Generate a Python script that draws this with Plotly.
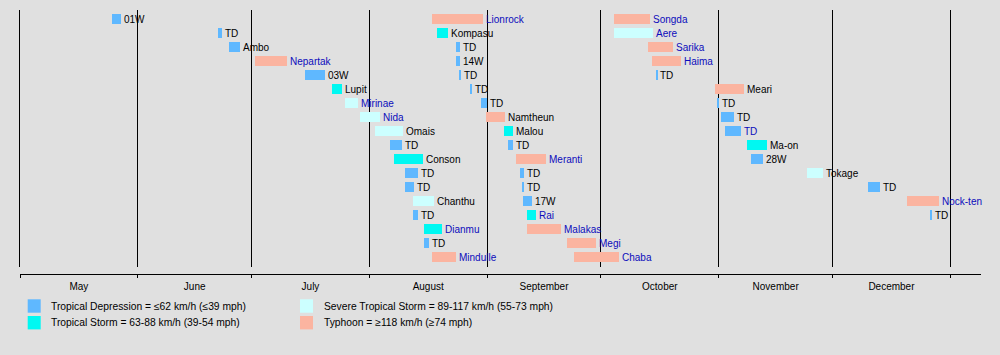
import plotly.graph_objects as go
import pandas as pd

# ---------------- data ----------------
names = [
    "01W", "TD", "Ambo", "Nepartak", "03W", "Lupit", "Mirinae", "Nida", "Omais",
    "TD", "Conson", "TD", "TD", "Chanthu", "TD", "Dianmu", "TD", "Mindulle",
    "Lionrock", "Kompasu", "TD", "14W", "TD", "TD", "TD", "Namtheun", "Malou",
    "TD", "Meranti", "TD", "TD", "17W", "Rai", "Malakas", "Megi", "Chaba",
    "Songda", "Aere", "Sarika", "Haima", "TD", "Meari", "TD", "TD", "TD",
    "Ma-on", "28W", "Tokage", "TD", "Nock-ten", "TD",
]
starts = [
    "2016-05-25 05:00", "2016-06-22 05:00", "2016-06-24 22:00", "2016-07-02 00:00",
    "2016-07-15 02:00", "2016-07-22 05:00", "2016-07-25 12:00", "2016-07-29 12:00",
    "2016-08-02 12:00", "2016-08-06 12:00", "2016-08-07 12:00", "2016-08-10 12:00",
    "2016-08-10 12:00", "2016-08-12 14:00", "2016-08-12 14:00", "2016-08-15 12:00",
    "2016-08-15 12:00", "2016-08-17 14:00",
    "2016-08-17 14:00", "2016-08-18 17:00", "2016-08-23 17:00", "2016-08-23 17:00",
    "2016-08-24 19:00", "2016-08-27 14:00", "2016-08-30 07:00", "2016-08-31 17:00",
    "2016-09-05 12:00", "2016-09-06 14:00", "2016-09-08 17:00", "2016-09-09 17:00",
    "2016-09-10 10:00", "2016-09-10 12:00", "2016-09-11 12:00", "2016-09-11 12:00",
    "2016-09-22 02:00", "2016-09-23 22:00",
    "2016-10-04 10:00", "2016-10-04 10:00", "2016-10-13 10:00", "2016-10-14 12:00",
    "2016-10-15 12:00", "2016-10-30 22:00", "2016-10-31 17:00", "2016-11-01 17:00",
    "2016-11-02 14:00", "2016-11-08 14:00", "2016-11-09 14:00", "2016-11-24 07:00",
    "2016-12-10 07:00", "2016-12-20 12:00", "2016-12-26 19:00",
]
ends = [
    "2016-05-27 14:00", "2016-06-23 05:00", "2016-06-28 00:00", "2016-07-10 05:00",
    "2016-07-20 05:00", "2016-07-24 17:00", "2016-07-28 22:00", "2016-08-03 22:00",
    "2016-08-09 22:00", "2016-08-09 14:00", "2016-08-15 00:00", "2016-08-13 19:00",
    "2016-08-12 19:00", "2016-08-18 00:00", "2016-08-13 19:00", "2016-08-20 02:00",
    "2016-08-16 19:00", "2016-08-23 22:00",
    "2016-08-30 22:00", "2016-08-21 19:00", "2016-08-25 00:00", "2016-08-25 00:00",
    "2016-08-25 05:00", "2016-08-27 22:00", "2016-09-01 02:00", "2016-09-05 17:00",
    "2016-09-07 19:00", "2016-09-07 22:00", "2016-09-16 14:00", "2016-09-10 17:00",
    "2016-09-10 17:00", "2016-09-12 17:00", "2016-09-13 22:00", "2016-09-20 12:00",
    "2016-09-29 14:00", "2016-10-05 17:00",
    "2016-10-13 19:00", "2016-10-14 14:00", "2016-10-20 00:00", "2016-10-22 02:00",
    "2016-10-15 19:00", "2016-11-07 19:00", "2016-11-01 02:00", "2016-11-04 22:00",
    "2016-11-07 00:00", "2016-11-13 19:00", "2016-11-12 17:00", "2016-11-28 10:00",
    "2016-12-13 12:00", "2016-12-29 02:00", "2016-12-27 05:00",
]
cats = [
    "TD", "TD", "TD", "TY", "TD", "TS", "STS", "STS", "STS",
    "TD", "TS", "TD", "TD", "STS", "TD", "TS", "TD", "TY",
    "TY", "TS", "TD", "TD", "TD", "TD", "TD", "TY", "TS",
    "TD", "TY", "TD", "TD", "TD", "TS", "TY", "TY", "TY",
    "TY", "STS", "TY", "TY", "TD", "TY", "TD", "TD", "TD",
    "TS", "TD", "STS", "TD", "TY", "TD",
]
linked = [
    0, 0, 0, 1, 0, 0, 1, 1, 0,
    0, 0, 0, 0, 0, 0, 1, 0, 1,
    1, 0, 0, 0, 0, 0, 0, 0, 0,
    0, 1, 0, 0, 0, 1, 1, 1, 1,
    1, 1, 1, 1, 0, 0, 0, 0, 1,
    0, 0, 0, 0, 1, 0,
]
legend_cats = ["TD", "TS", "STS", "TY"]
legend_texts = [
    "Tropical Depression = ≤62 km/h (≤39 mph)",
    "Tropical Storm = 63-88 km/h (39-54 mph)",
    "Severe Tropical Storm = 89-117 km/h (55-73 mph)",
    "Typhoon = ≥118 km/h (≥74 mph)",
]
x_range = ["2016-05-01", "2017-01-09 02:00"]

# ---------------- styling ----------------
ROWS_PER_COL = 18
COLORS = {"TD": "#5fb8ff", "TS": "#00f8f2", "STS": "#ccffff", "TY": "#fbb4a0"}
LINK = "#0c0cbc"
FONT = "Liberation Sans, Arial, sans-serif"
BG = "#e0e0e0"
W, H = 1000, 355
ML, MR, MT, MB = 20, 19, 10, 81
PW, PH = W - ML - MR, H - MT - MB


def px(x):
    return (x - ML) / PW


def py(y):
    return (H - MB - y) / PH


s = pd.to_datetime(pd.Series(starts))
e = pd.to_datetime(pd.Series(ends))
dur_ms = ((e - s).dt.total_seconds() * 1000).tolist()
rows = [i % ROWS_PER_COL for i in range(len(names))]

fig = go.Figure()
for cat in legend_cats:
    idx = [i for i, c in enumerate(cats) if c == cat]
    fig.add_trace(go.Bar(
        orientation="h",
        base=[starts[i] for i in idx],
        x=[dur_ms[i] for i in idx],
        y=[rows[i] for i in idx],
        width=0.72,
        marker=dict(color=COLORS[cat], line=dict(width=0)),
        showlegend=False,
        hovertext=[names[i] for i in idx],
        hoverinfo="text",
    ))

annotations = []
for i, n in enumerate(names):
    annotations.append(dict(
        x=ends[i], y=rows[i], xref="x", yref="y", text=n,
        showarrow=False, xanchor="left", yanchor="middle", xshift=1,
        font=dict(family=FONT, size=10, color=LINK if linked[i] else "#000000"),
    ))

shapes = []
leg_cols = [27.7, 300]
leg_rows = [299.3, 316]
for k, cat in enumerate(legend_cats):
    cx = leg_cols[k // 2]
    cy = leg_rows[k % 2]
    shapes.append(dict(
        type="rect", xref="paper", yref="paper",
        x0=px(cx), x1=px(cx + 13), y0=py(cy), y1=py(cy + 13.4),
        fillcolor=COLORS[cat], line=dict(width=0), layer="above",
    ))
    annotations.append(dict(
        x=px(cx + 21.5), y=py(cy + 6.9), xref="paper", yref="paper",
        text=legend_texts[k], showarrow=False, xanchor="left", yanchor="middle",
        font=dict(family=FONT, size=10.3, color="#000000"),
    ))

fig.update_layout(
    width=W, height=H,
    margin=dict(l=ML, r=MR, t=MT, b=MB, pad=0),
    paper_bgcolor=BG, plot_bgcolor=BG,
    barmode="overlay",
    bargap=0,
    showlegend=False,
    font=dict(family=FONT, size=10, color="#000000"),
    annotations=annotations,
    shapes=shapes,
    xaxis=dict(
        type="date", range=x_range,
        dtick="M1", tick0="2016-05-01", tickformat="%B",
        ticklabelmode="period",
        showgrid=True, gridcolor="#000000", gridwidth=1,
        showline=True, linecolor="#000000", linewidth=1,
        ticks="outside", ticklen=3, tickcolor="#000000", tickwidth=1,
        tickfont=dict(family=FONT, size=10, color="#000000"),
        anchor="free", position=0,
        zeroline=False, fixedrange=True,
    ),
    yaxis=dict(
        range=[17.714, -0.643],
        domain=[0.0265, 1],
        showgrid=False, zeroline=False, showticklabels=False, ticks="",
        showline=True, linecolor="#000000", linewidth=1,
        fixedrange=True,
    ),
)

fig.write_html(
    "out.html",
    config={"displayModeBar": False},
    post_script=(
        "document.body.style.margin='0';"
        "document.body.style.padding='0';"
        "document.body.style.overflow='hidden';"
        "document.body.style.background='" + BG + "';"
    ),
)
